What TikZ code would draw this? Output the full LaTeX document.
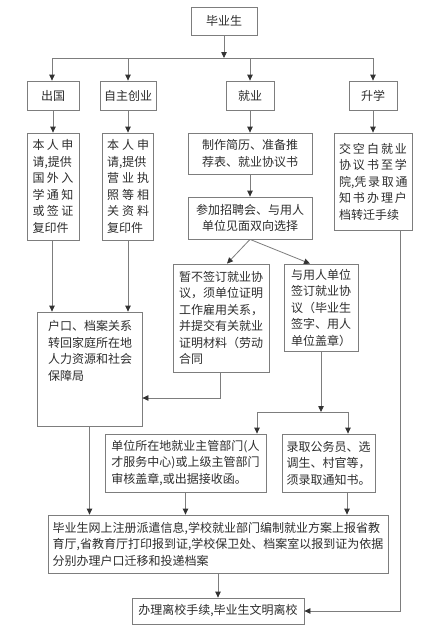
\documentclass[tikz,border=0pt]{standalone}
\usepackage{fontspec}
\setmainfont{Noto Sans CJK SC}
\usetikzlibrary{arrows.meta}
\definecolor{lineC}{RGB}{125,125,125}
\definecolor{textC}{RGB}{45,45,45}
\newcommand\spr[2]{\makebox[#1][s]{#2}}
\begin{document}
\begin{tikzpicture}[x=1pt,y=-1pt,
  box/.style={draw=lineC,line width=0.8pt,inner sep=0pt,text=textC,
    font=\fontsize{12pt}{16.5pt}\selectfont},
  ln/.style={draw=lineC,line width=0.8pt},
  arr/.style={ln,-{Triangle[length=6pt,width=5.5pt,fill=black!80,color=black!80]}}]
\useasboundingbox[fill=white] (0,0) rectangle (445,629);
% level 0
\node[box,minimum width=66pt,minimum height=28pt] (top) at (224,21) {毕业生};
% level 1
\node[box,minimum width=52pt,minimum height=29pt] (cg) at (53,95.5) {出国};
\node[box,minimum width=56pt,minimum height=29pt] (zz) at (128,95.5) {自主创业};
\node[box,minimum width=48pt,minimum height=29pt] (jy) at (250,95.5) {就业};
\node[box,minimum width=48pt,minimum height=29pt] (sx) at (373,95.5) {升学};
% level 2
\node[box,minimum width=52pt,minimum height=107pt,align=left] (cg2) at (53,186.5)
  {\spr{41pt}{本 人 申}\\\spr{41pt}{请,提供}\\\spr{41pt}{国 外 入}\\\spr{41pt}{学 通 知}\\\spr{41pt}{或 签 证}\\复印件};
\node[box,minimum width=51pt,minimum height=107pt,align=left] (zz2) at (128,186.5)
  {\spr{42pt}{本 人 申}\\\spr{42pt}{请,提供}\\\spr{42pt}{营 业 执}\\\spr{42pt}{照 等 相}\\\spr{42pt}{关 资 料}\\复印件};
\node[box,minimum width=124pt,minimum height=41pt,align=center] (zj) at (250,153.5)
  {制作简历、准备推\\荐表、就业协议书};
\node[box,minimum width=78pt,minimum height=97pt,align=left] (sx2) at (373,181.5)
  {\spr{68pt}{交 空 白 就 业}\\\spr{68pt}{协 议 书 至 学}\\\spr{68pt}{院,凭 录 取 通}\\\spr{68pt}{知 书 办 理 户}\\档转迁手续};
\node[box,minimum width=124pt,minimum height=42pt,align=center] (cj) at (250,218)
  {参加招聘会、与用人\\单位见面双向选择};
% level 3
\node[box,minimum width=96pt,minimum height=108pt,align=left] (zb) at (221,318)
  {暂不签订就业协\\议，须单位证明\\工作雇用关系，\\并提交有关就业\\证明材料（劳动\\合同};
\node[box,minimum width=74pt,minimum height=87pt,align=left] (yy) at (321,307.5)
  {与用人单位\\签订就业协\\议（毕业生\\签字、用人\\单位盖章）};
\node[box,minimum width=105pt,minimum height=114pt] (hk) at (89.5,369)
  {\parbox[c][114pt][t]{105pt}{\fontsize{12pt}{16.5pt}\selectfont\leftskip=11pt\vspace*{8.5pt}户口、档案关系\\转回家庭所在地\\人力资源和社会\\保障局}};
% level 4
\node[box,minimum width=161pt,minimum height=58pt,align=left] (dw) at (185.5,463)
  {单位所在地就业主管部门(人\\才服务中心)或上级主管部门\\审核盖章,或出据接收函。};
\node[box,minimum width=93pt,minimum height=58pt,align=left] (lq) at (328.5,463)
  {录取公务员、选\\调生、村官等，\\须录取通知书。};
% level 5
\node[box,minimum width=340pt,minimum height=58pt,align=left] (big) at (218,544)
  {毕业生网上注册派遣信息,学校就业部门编制就业方案上报省教\\育厅,省教育厅打印报到证,学校保卫处、档案室以报到证为依据\\分别办理户口迁移和投递档案};
\node[box,minimum width=172pt,minimum height=26pt] (fin) at (218,611) {办理离校手续,毕业生文明离校};
% coordinates
\coordinate (bus) at (224,58);
\coordinate (busL) at (52,58);
\coordinate (busR) at (373,58);
\coordinate (bus2) at (321,412);
\coordinate (bus2L) at (257,412);
\coordinate (bus2R) at (348,412);
\coordinate (zbT) at (220,398);
\coordinate (lqo) at (347,492);
\coordinate (sxo) at (400,230);
\coordinate (sxT) at (400,611);
% connectors
\draw[arr] (top.south) -- (bus);
\draw[ln] (busL) -- (busR);
\draw[arr] (busL) -- (busL |- cg.north);
\draw[arr] (zz.north |- bus) -- (zz.north);
\draw[arr] (jy.north |- bus) -- (jy.north);
\draw[arr] (busR) -- (sx.north);
\draw[arr] (cg.south) -- (cg2.north);
\draw[arr] (zz.south) -- (zz2.north);
\draw[arr] (jy.south) -- (zj.north);
\draw[arr] (sx.south) -- (sx2.north);
\draw[arr] (zj.south) -- (cj.north);
\draw[arr] (cj.south) -- ([xshift=6pt]zb.north);
\draw[arr] (cj.south) -- ([xshift=-11pt]yy.north);
\draw[arr] (busL |- cg2.south) -- (busL |- hk.north);
\draw[arr] (zz2.south) -- (zz2.south |- hk.north);
\draw[arr] (zbT |- zb.south) -- (zbT) -- (zbT -| hk.east);
\draw[arr] (yy.south) -- (bus2);
\draw[ln] (bus2L) -- (bus2R);
\draw[arr] (bus2L) -- (bus2L |- dw.north);
\draw[arr] (bus2R) -- (bus2R |- lq.north);
\draw[arr] (hk.south) -- (hk.south |- big.north);
\draw[arr] (dw.south) -- (dw.south |- big.north);
\draw[arr] (lqo) -- (lqo |- big.north);
\draw[arr] (big.south) -- (fin.north);
\draw[arr] (sxo) -- (sxT) -- (fin.east);
\end{tikzpicture}
\end{document}
